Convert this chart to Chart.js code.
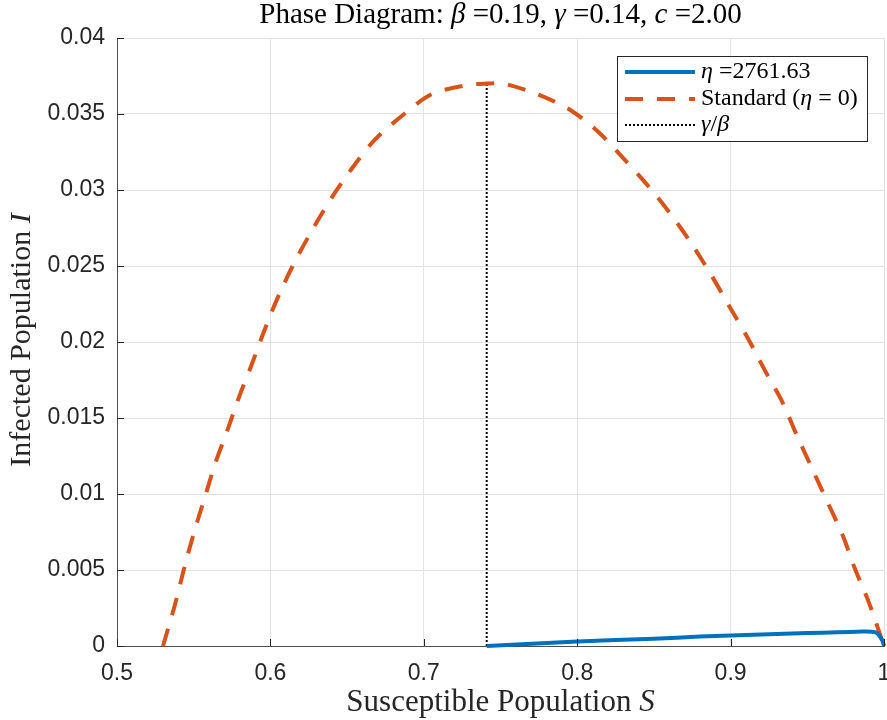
<!DOCTYPE html>
<html>
<head>
<meta charset="utf-8">
<script src="https://cdn.jsdelivr.net/npm/chart.js@4.4.1/dist/chart.umd.min.js"></script>
<style>
  html, body { margin: 0; padding: 0; background: #fff; }
  canvas { display: block; }
</style>
</head>
<body>
<canvas id="phaseChart" width="887" height="720"></canvas>
<script>
// values
var standardS = [0.530, 0.538, 0.544, 0.550, 0.557, 0.564, 0.572, 0.580, 0.587, 0.597,
                 0.606, 0.616, 0.628, 0.640, 0.653, 0.668, 0.686, 0.705, 0.728, 0.741,
                 0.752, 0.774, 0.795, 0.814, 0.830, 0.846, 0.861, 0.875, 0.888, 0.900,
                 0.911, 0.922, 0.934, 0.943, 0.953, 0.963, 0.973, 0.981, 0.990, 1.000];
var standardI = [0, 0.0028, 0.0052, 0.0074, 0.0097, 0.0120, 0.0142, 0.0165, 0.0183, 0.0210,
                 0.0232, 0.0253, 0.0275, 0.0295, 0.0314, 0.0333, 0.0349, 0.0363, 0.0369, 0.0370,
                 0.0370, 0.0363, 0.0353, 0.0338, 0.0321, 0.0303, 0.0284, 0.0264, 0.0243, 0.0222,
                 0.0203, 0.0182, 0.0160, 0.0139, 0.0117, 0.0095, 0.0073, 0.0051, 0.0029, 0];

var etaS = [0.741, 0.80, 0.85, 0.88, 0.92, 0.95, 0.97, 0.986, 0.992, 0.995, 0.997, 0.999, 1.000];
var etaI = [0, 0.00030, 0.00048, 0.00062, 0.00076, 0.00085, 0.00090, 0.00095, 0.00094, 0.00088, 0.00068, 0.00035, 0];

var gammaOverBeta = 0.741;
var thresholdTop = 0.0369;

var xTicks = [0.5, 0.6, 0.7, 0.8, 0.9, 1];
var yTicks = [0, 0.005, 0.01, 0.015, 0.02, 0.025, 0.03, 0.035, 0.04];

// text runs: [text, italic]
var titleRuns = [["Phase Diagram: ", 0], ["\u03b2", 1], [" =0.19, ", 0], ["\u03b3", 1], [" =0.14, ", 0], ["c", 1], [" =2.00", 0]];
var xTitleRuns = [["Susceptible Population ", 0], ["S", 1]];
var yTitleRuns = [["Infected Population ", 0], ["I", 1]];
var legendRuns = [
    [["\u03b7", 1], [" =2761.63", 0]],
    [["Standard (", 0], ["\u03b7", 1], [" = 0)", 0]],
    [["\u03b3", 1], ["/", 0], ["\u03b2", 1]]
];

function toPoints(xs, ys) {
    var pts = [];
    for (var i = 0; i < xs.length; i++) pts.push({x: xs[i], y: ys[i]});
    return pts;
}

var serif = '"Liberation Serif", "Times New Roman", serif';

function drawRuns(ctx, runs, x, y, size, align) {
    var total = 0, widths = [];
    runs.forEach(function(r) {
        ctx.font = (r[1] ? "italic " : "") + size + "px " + serif;
        var w = ctx.measureText(r[0]).width;
        widths.push(w);
        total += w;
    });
    var cx = align === "center" ? x - total / 2 : x;
    ctx.textBaseline = "middle";
    ctx.textAlign = "left";
    runs.forEach(function(r, i) {
        ctx.font = (r[1] ? "italic " : "") + size + "px " + serif;
        ctx.fillText(r[0], cx, y);
        cx += widths[i];
    });
}

var overlay = {
    id: "overlay",
    afterDraw: function(chart) {
        var ctx = chart.ctx;
        var area = chart.chartArea;
        var xs = chart.scales.x, ys = chart.scales.y;
        ctx.save();

        // inward ticks
        ctx.strokeStyle = "#262626";
        ctx.lineWidth = 1;
        ctx.beginPath();
        xTicks.forEach(function(v) {
            var px = Math.round(xs.getPixelForValue(v)) + 0.5;
            ctx.moveTo(px, area.bottom);
            ctx.lineTo(px, area.bottom - 7);
        });
        yTicks.forEach(function(v) {
            var py = Math.round(ys.getPixelForValue(v)) + 0.5;
            ctx.moveTo(area.left, py);
            ctx.lineTo(area.left + 7, py);
        });
        ctx.stroke();

        ctx.fillStyle = "#000";
        var midX = (area.left + area.right) / 2;
        drawRuns(ctx, titleRuns, midX, 15, 29, "center");
        ctx.fillStyle = "#262626";
        drawRuns(ctx, xTitleRuns, midX, 703, 31, "center");
        ctx.save();
        ctx.translate(22, (area.top + area.bottom) / 2 - 2);
        ctx.rotate(-Math.PI / 2);
        drawRuns(ctx, yTitleRuns, 0, 0, 30, "center");
        ctx.restore();

        // legend box
        var bx = 617.5, by = 56.5, bw = 250, bh = 85;
        ctx.fillStyle = "#fff";
        ctx.fillRect(bx, by, bw, bh);
        ctx.strokeStyle = "#262626";
        ctx.lineWidth = 1;
        ctx.strokeRect(bx, by, bw, bh);
        var rows = [72, 99, 125];
        chart.data.datasets.forEach(function(ds, i) {
            ctx.save();
            ctx.strokeStyle = ds.borderColor;
            ctx.lineWidth = ds.borderWidth;
            ctx.setLineDash(ds.borderDash || []);
            ctx.beginPath();
            ctx.moveTo(625, rows[i]);
            ctx.lineTo(695, rows[i]);
            ctx.stroke();
            ctx.restore();
            ctx.fillStyle = "#000";
            drawRuns(ctx, legendRuns[i], 701, rows[i], 24, "left");
        });
        ctx.restore();
    }
};

var ctx = document.getElementById("phaseChart");
var phaseChart = new Chart(ctx, {
    type: "scatter",
    data: {
        datasets: [
            {
                label: "\u03b7 =2761.63",
                data: toPoints(etaS, etaI),
                showLine: true,
                borderColor: "#0072BD",
                borderWidth: 4,
                pointRadius: 0,
                tension: 0.2,
                clip: 6
            },
            {
                label: "Standard (\u03b7 = 0)",
                data: toPoints(standardS, standardI),
                showLine: true,
                borderColor: "#D95319",
                borderWidth: 4,
                borderDash: [18, 14],
                pointRadius: 0,
                tension: 0.3,
                clip: 6
            },
            {
                label: "\u03b3/\u03b2",
                data: [{x: gammaOverBeta, y: 0}, {x: gammaOverBeta, y: thresholdTop}],
                showLine: true,
                borderColor: "#000",
                borderWidth: 2,
                borderDash: [2, 2],
                pointRadius: 0
            }
        ]
    },
    options: {
        responsive: false,
        animation: false,
        devicePixelRatio: 1,
        layout: { padding: { top: 38, right: 3, bottom: 0, left: 0 } },
        plugins: {
            legend: { display: false },
            title: { display: false },
            tooltip: { enabled: false }
        },
        scales: {
            x: {
                type: "linear",
                min: 0.5,
                max: 1,
                afterBuildTicks: function(s) { s.ticks = xTicks.map(function(v) { return {value: v}; }); },
                afterFit: function(s) { s.height = 74; s.paddingRight = 0; s.paddingLeft = 0; },
                ticks: {
                    padding: 14,
                    color: "#262626",
                    font: { family: '"Liberation Sans", Arial, sans-serif', size: 23 },
                    callback: function(v) { return String(Number(v.toFixed(2))); }
                },
                grid: { color: "#e3e3e3", drawTicks: false },
                border: { color: "#4d4d4d", width: 1 }
            },
            y: {
                type: "linear",
                min: 0,
                max: 0.04,
                afterBuildTicks: function(s) { s.ticks = yTicks.map(function(v) { return {value: v}; }); },
                afterFit: function(s) { s.width = 117; },
                ticks: {
                    padding: 12,
                    color: "#262626",
                    font: { family: '"Liberation Sans", Arial, sans-serif', size: 23 },
                    callback: function(v) { return String(Number(v.toFixed(3))); }
                },
                grid: { color: "#e3e3e3", drawTicks: false },
                border: { color: "#4d4d4d", width: 1 }
            }
        }
    },
    plugins: [overlay]
});
</script>
</body>
</html>
